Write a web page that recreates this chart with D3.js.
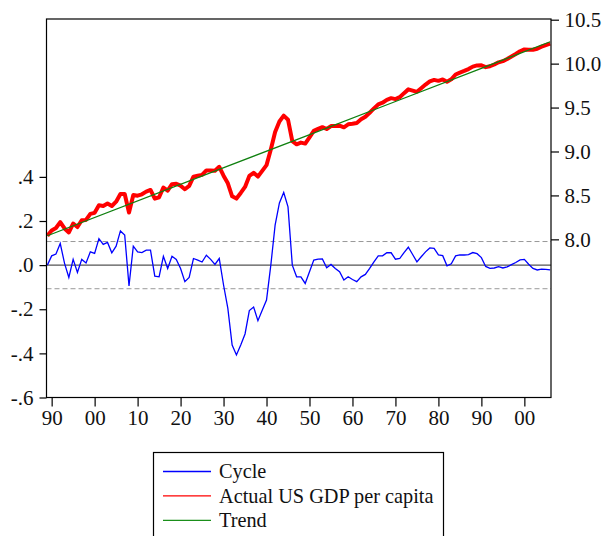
<!DOCTYPE html>
<html>
<head>
<meta charset="utf-8">
<script src="https://cdn.jsdelivr.net/npm/d3@7/dist/d3.min.js"></script>
<style>
  body { margin: 0; background: #fff; }
  svg text { font-family: 'Liberation Serif', 'Times New Roman', serif; fill: #111; }
</style>
</head>
<body>
<script>
// annual observations, 1889-2006
var years = d3.range(1889, 2007)

// HP cycle (left axis)
var cycle = [
  0.000, 0.042, 0.050, 0.098, 0.008, -0.056, 0.026, -0.033, 0.026, 0.010,
  0.060, 0.053, 0.120, 0.094, 0.103, 0.056, 0.086, 0.155, 0.136, -0.094,
  0.086, 0.060, 0.057, 0.068, 0.068, -0.050, -0.053, 0.040, -0.015, 0.040,
  0.026, -0.015, -0.075, -0.056, 0.030, 0.023, 0.014, 0.045, 0.026, 0.003,
  0.030, -0.090, -0.196, -0.362, -0.407, -0.362, -0.312, -0.206, -0.190, -0.252,
  -0.205, -0.158, 0.000, 0.181, 0.282, 0.329, 0.264, 0.000, -0.053, -0.053,
  -0.083, -0.030, 0.023, 0.027, 0.028, -0.012, 0.003, -0.015, -0.030, -0.068,
  -0.053, -0.065, -0.075, -0.053, -0.042, -0.015, 0.015, 0.042, 0.042, 0.056,
  0.056, 0.027, 0.030, 0.057, 0.081, 0.048, 0.015, 0.038, 0.060, 0.078,
  0.076, 0.046, 0.043, -0.003, 0.006, 0.042, 0.046, 0.046, 0.048, 0.057,
  0.052, 0.034, -0.006, -0.015, -0.013, -0.007, -0.013, -0.008, 0.002, 0.012,
  0.024, 0.026, 0.004, -0.015, -0.022, -0.018, -0.019, -0.022
]

// log real GDP per capita (right axis)
var actual = [
  8.041, 8.102, 8.129, 8.196, 8.124, 8.079, 8.180, 8.140, 8.218, 8.221,
  8.290, 8.302, 8.387, 8.380, 8.408, 8.380, 8.429, 8.517, 8.517, 8.306,
  8.504, 8.497, 8.513, 8.543, 8.562, 8.463, 8.479, 8.590, 8.554, 8.628,
  8.633, 8.611, 8.570, 8.608, 8.713, 8.724, 8.734, 8.784, 8.784, 8.780,
  8.826, 8.725, 8.638, 8.490, 8.464, 8.528, 8.597, 8.722, 8.757, 8.714,
  8.780, 8.845, 9.022, 9.222, 9.342, 9.408, 9.362, 9.117, 9.082, 9.101,
  9.090, 9.162, 9.234, 9.257, 9.277, 9.256, 9.289, 9.290, 9.294, 9.275,
  9.309, 9.316, 9.325, 9.366, 9.395, 9.441, 9.490, 9.536, 9.555, 9.588,
  9.607, 9.596, 9.618, 9.664, 9.707, 9.693, 9.679, 9.721, 9.762, 9.798,
  9.815, 9.804, 9.820, 9.793, 9.821, 9.876, 9.898, 9.917, 9.938, 9.966,
  9.980, 9.981, 9.960, 9.970, 9.990, 10.015, 10.028, 10.052, 10.081, 10.110,
  10.141, 10.162, 10.158, 10.158, 10.170, 10.193, 10.211, 10.227
]

// trend read at a few years
var trendYears = [1889, 1929, 1949, 1970, 1990, 2006]
var trendValues = [8.041, 8.796, 9.173, 9.569, 9.947, 10.249]

var bandValue = 0.107
var leftTicks = [-0.6, -0.4, -0.2, 0, 0.2, 0.4]
var rightTicks = [8.0, 8.5, 9.0, 9.5, 10.0, 10.5]
var yearTicks = [1890, 1900, 1910, 1920, 1930, 1940, 1950, 1960, 1970, 1980, 1990, 2000]
var legendNames = ['Cycle', 'Actual US GDP per capita', 'Trend']
var legendColors = ['#0000ff', '#ff0000', '#1a8f1a']

window.onload = function() {
  var width = 606
  var height = 536
  var left = 46.5, right = 551, top = 19, bottom = 397.5
  var serif = "'Liberation Serif', 'Times New Roman', serif"

  var svg = d3.select('body')
    .append('svg')
    .attr('width', width)
    .attr('height', height)

  var x = d3.scaleLinear().domain([1888.8, 2006.2]).range([left, right])
  var yL = d3.scaleLinear().domain([-0.6, 1.1156]).range([bottom, top])
  var yR = d3.scaleLinear().domain([6.2, 10.508]).range([bottom, top])

  svg.append('clipPath').attr('id', 'plot')
    .append('rect')
    .attr('x', left).attr('y', top)
    .attr('width', right - left).attr('height', bottom - top)

  var g = svg.append('g').attr('clip-path', 'url(#plot)')

  // reference lines
  g.append('line')
    .attr('x1', left).attr('x2', right)
    .attr('y1', yL(0)).attr('y2', yL(0))
    .attr('stroke', '#555').attr('stroke-width', 1.2)

  g.selectAll('.band')
    .data([bandValue, -bandValue])
    .enter()
    .append('line')
    .attr('x1', left).attr('x2', right)
    .attr('y1', d => yL(d)).attr('y2', d => yL(d))
    .attr('stroke', '#999').attr('stroke-width', 1)
    .attr('stroke-dasharray', '5,3')

  var cycleLine = d3.line()
    .x((d, i) => x(years[i]))
    .y(d => yL(d))

  var rightLine = d3.line()
    .x((d, i) => x(years[i]))
    .y(d => yR(d))

  g.append('path')
    .attr('d', cycleLine(cycle))
    .attr('fill', 'none')
    .attr('stroke', legendColors[0])
    .attr('stroke-width', 1.3)

  g.append('path')
    .attr('d', rightLine(actual))
    .attr('fill', 'none')
    .attr('stroke', legendColors[1])
    .attr('stroke-width', 4)
    .attr('stroke-linejoin', 'round')

  var trendLine = d3.line()
    .x((d, i) => x(trendYears[i]))
    .y(d => yR(d))

  g.append('path')
    .attr('d', trendLine(trendValues))
    .attr('fill', 'none')
    .attr('stroke', '#108010')
    .attr('stroke-width', 1.3)

  // frame
  svg.append('rect')
    .attr('x', left).attr('y', top)
    .attr('width', right - left).attr('height', bottom - top)
    .attr('fill', 'none')
    .attr('stroke', '#000')
    .attr('stroke-width', 1.2)

  var fmtLeft = function(d) {
    var s = d3.format('.1f')(d)
    return s.replace('\u2212', '-').replace('0.', '.')
  }

  var leftAxis = d3.axisLeft(yL)
    .tickValues(leftTicks)
    .tickSize(7)
    .tickPadding(6)
    .tickFormat(fmtLeft)

  var rightAxis = d3.axisRight(yR)
    .tickValues(rightTicks)
    .tickSize(8)
    .tickPadding(5.5)
    .tickFormat(d3.format('.1f'))

  var bottomAxis = d3.axisBottom(x)
    .tickValues(yearTicks)
    .tickSize(9)
    .tickPadding(4)
    .tickFormat(d => d3.format('02d')(d % 100))

  var gl = svg.append('g').attr('transform', 'translate(' + left + ',0)')
  var gr = svg.append('g').attr('transform', 'translate(' + right + ',0)')
  var gb = svg.append('g').attr('transform', 'translate(0,' + bottom + ')')
  gl.call(leftAxis)
  gr.call(rightAxis)
  gb.call(bottomAxis)

  ;[gl, gr, gb].forEach(function(a) {
    a.attr('font-family', serif).attr('font-size', 21)
    a.select('.domain').remove()
    a.selectAll('.tick line').attr('stroke', '#000').attr('stroke-width', 1.2)
    a.selectAll('.tick text')
      .style('font-family', serif, 'important')
      .style('font-size', '21px', 'important')
      .attr('fill', '#111')
  })

  // legend
  var lg = svg.append('g')
  lg.append('rect')
    .attr('x', 153.5).attr('y', 452.5)
    .attr('width', 290).attr('height', 100)
    .attr('fill', '#fff')
    .attr('stroke', '#000')
    .attr('stroke-width', 1.2)

  var rows = lg.selectAll('.row')
    .data(legendNames)
    .enter()
    .append('g')
    .attr('transform', (d, i) => 'translate(0,' + (471.5 + i * 24.4) + ')')

  rows.append('line')
    .attr('x1', 163).attr('x2', 211)
    .attr('y1', 0).attr('y2', 0)
    .attr('stroke', (d, i) => legendColors[i])
    .attr('stroke-width', 1.3)

  rows.append('text')
    .attr('x', 219)
    .attr('y', 0)
    .attr('dy', '0.33em')
    .style('font-family', serif)
    .style('font-size', '20.3px')
    .text(d => d)
}
</script>
</body>
</html>
